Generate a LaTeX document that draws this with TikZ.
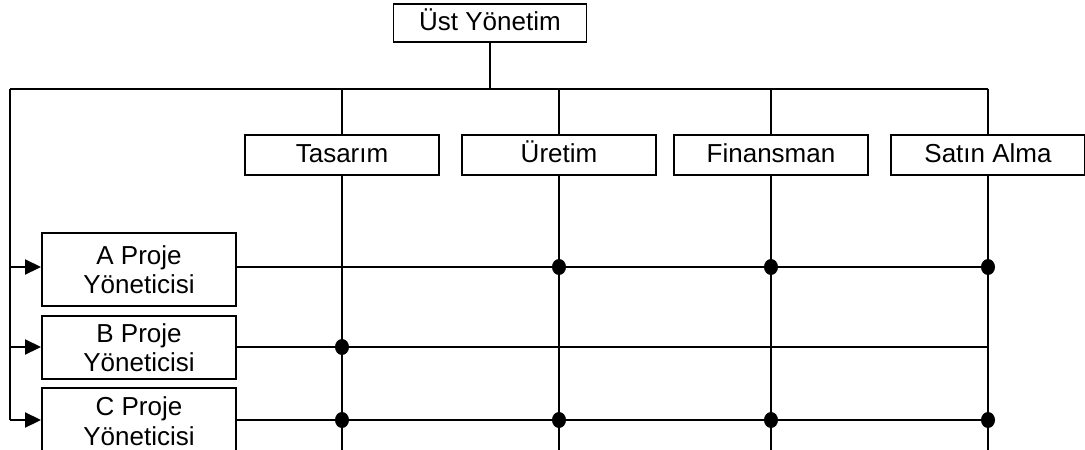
\documentclass[tikz,border=0pt]{standalone}
\usepackage{fontspec}
\setmainfont{Liberation Sans}
\usetikzlibrary{arrows.meta}
\begin{document}
\begin{tikzpicture}[x=1pt,y=-1pt,
  line width=1.9pt,
  unit/.style={draw, fill=white, inner sep=0pt, align=center,
    font=\fontsize{26}{29.5}\selectfont},
  dept/.style={unit, minimum width=194pt, minimum height=40pt,
    text height=19pt, text depth=5pt},
  pm/.style={unit, minimum width=194pt},
  link/.style={-{Triangle[length=16pt,width=15pt]}},
]
\useasboundingbox (0,0) rectangle (1085,450);
\clip (0,0) rectangle (1085,450);

% top management
\node[unit, minimum width=193pt, minimum height=38pt,
  text height=19pt, text depth=5pt] (top) at (490,23) {Üst Yönetim};

% functional departments
\node[dept] (tas) at (342,155) {Tasarım};
\node[dept] (ure) at (559,155) {Üretim};
\node[dept] (fin) at (771,155) {Finansman};
\node[dept] (sat) at (988,155) {Satın Alma};

% project managers
\node[pm, minimum height=73pt] (pa) at (139,269.5) {A Proje\\Yöneticisi};
\node[pm, minimum height=63pt] (pb) at (139,347.5) {B Proje\\Yöneticisi};
\node[pm, minimum height=66pt] (pc) at (139,421) {C Proje\\Yöneticisi};

% bus lines
\coordinate (busL) at (10,89);
\coordinate (busT) at (top.south |- busL);
\draw (top.south) -- (busT);
\draw (busL) -- (sat.north |- busL);
\draw (busL) -- (busL |- 0,420);

% columns from the bus through each department down to the bottom
\foreach \d in {tas,ure,fin,sat}{
  \draw (\d.north |- busL) -- (\d.north);
  \draw (\d.south) -- (\d.south |- 0,450);
}

% arrows into each project manager
\draw[link] (busL |- 0,267) -- (pa.west |- 0,267);
\draw[link] (busL |- 0,347) -- (pb.west |- 0,347);
\draw[link] (busL |- 0,420) -- (pc.west |- 0,420);

% project rows
\coordinate (ra) at (sat.south |- 0,267);
\coordinate (rb) at (sat.south |- 0,347);
\coordinate (rc) at (sat.south |- 0,420);
\draw (pa.east |- ra) -- (ra);
\draw (pb.east |- rb) -- (rb);
\draw (pc.east |- rc) -- (rc);

% participation points
\foreach \d/\r in {ure/ra,fin/ra,sat/ra,tas/rb,tas/rc,ure/rc,fin/rc,sat/rc}{
  \fill (\d.south |- \r) ellipse [x radius=7pt, y radius=8pt];
}
\end{tikzpicture}
\end{document}
